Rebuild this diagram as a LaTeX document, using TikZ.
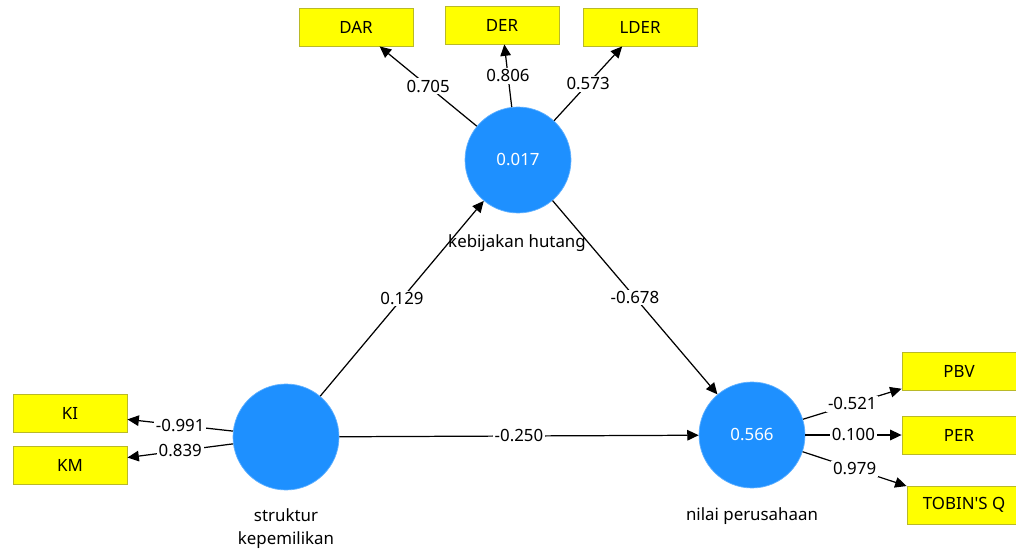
\documentclass[tikz,border=0pt]{standalone}
\usepackage{fontspec}
\setmainfont{Noto Sans}
\usetikzlibrary{arrows.meta}
\definecolor{lvblue}{RGB}{30,144,255}
\definecolor{indyellow}{RGB}{255,255,0}
\definecolor{indedge}{RGB}{185,185,40}

\begin{document}
\begin{tikzpicture}[x=0.02cm,y=-0.02cm,font=\fontsize{9.6}{13}\selectfont,
    lv/.style={circle,fill=lvblue,draw=lvblue!70,text=white,inner sep=0pt,minimum size=2.12cm},
    ind/.style={rectangle,fill=indyellow,draw=indedge,line width=0.5pt,minimum width=2.28cm,minimum height=0.76cm,inner sep=0pt},
    lbl/.style={fill=white,inner sep=1pt},
    path/.style={->,>={Triangle[length=6.5pt,width=6pt]},line width=0.7pt}]
      \useasboundingbox (0,0) rectangle (1016,553);
      % latent variables
      \node[lv](kh) at (518,160){0.017};
      \node[lv](sk) at (286,437){};
      \node[lv](np) at (752,435){0.566};
      \node(khname) at (517,243){kebijakan hutang};
      \node[align=center](skname) at (286,529){struktur\\kepemilikan};
      \node(npname) at (752,516){nilai perusahaan};
      % indicators
      \node[ind](dar) at (356,27){DAR};
      \node[ind](der) at (502,25){DER};
      \node[ind](lder) at (640,27){LDER};
      \node[ind](ki) at (70,413){KI};
      \node[ind](km) at (70,465){KM};
      \node[ind](pbv) at (959,371){PBV};
      \node[ind](per) at (959,435){PER};
      \node[ind](tobin) at (964,505){TOBIN\textquotesingle S Q};
      % outer loadings
      \draw[path](kh)--node[lbl](w1){0.705}(dar);
      \draw[path](kh)--node[lbl](w2){0.806}(der);
      \draw[path](kh)--node[lbl](w3){0.573}(lder);
      \draw[path](sk)--node[lbl](w4){-0.991}(ki);
      \draw[path](sk)--node[lbl](w5){0.839}(km);
      \draw[path](np)--node[lbl](w6){-0.521}(pbv);
      \draw[path](np)--node[lbl](w7){0.100}(per);
      \draw[path](np)--node[lbl](w8){0.979}(tobin);
      % inner model
      \draw[path](sk)--node[lbl](b1){0.129}(kh);
      \draw[path](kh)--node[lbl](b2){-0.678}(np);
      \draw[path](sk)--node[lbl](b3){-0.250}(np);
    \end{tikzpicture}
\end{document}
